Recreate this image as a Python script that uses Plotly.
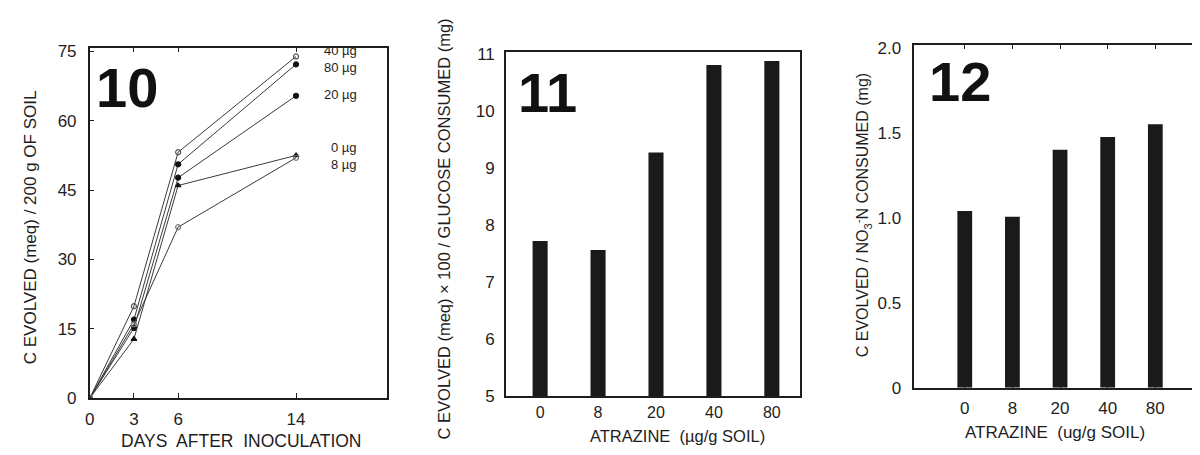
import plotly.graph_objects as go

# ---------------- data ----------------
days = [0, 3, 6, 14]
day_ticks = [0, 3, 6, 14]
c40 = [0, 19.9, 53.2, 73.9]
c80 = [0, 17.0, 50.6, 72.2]
c20 = [0, 15.2, 47.7, 65.4]
c0 = [0, 12.8, 46.0, 52.5]
c8 = [0, 16.0, 37.0, 52.0]
series_names = ["40 µg", "80 µg", "20 µg", "0 µg", "8 µg"]

y10_ticks = [0, 15, 30, 45, 60, 75]

atrazine = ["0", "8", "20", "40", "80"]
glucose_ratio = [7.72, 7.56, 9.27, 10.80, 10.87]
y11_ticks = [5, 6, 7, 8, 9, 10, 11]

nitrate_ratio = [1.04, 1.005, 1.40, 1.475, 1.55]
y12_ticks = [0, 0.5, 1.0, 1.5, 2.0]
y12_ticktext = ["0", "0.5", "1.0", "1.5", "2.0"]

# ---------------- style ----------------
FONT = "Liberation Sans, Arial, sans-serif"
INK = "#1e1e1e"
LINE = "#3a3a3a"
marker_symbols = ["circle-open", "circle", "circle", "triangle-up", "circle-open"]
marker_colors = ["#555555", "#111111", "#111111", "#111111", "#777777"]
label_offsets = [1.3, -0.6, 0.3, 1.7, -1.5]

fig = go.Figure()

all_series = [c40, c80, c20, c0, c8]
for name, vals, sym, col in zip(series_names, all_series, marker_symbols, marker_colors):
    fig.add_trace(go.Scatter(
        x=days, y=vals, mode="lines+markers", name=name,
        line=dict(color=LINE, width=1),
        marker=dict(symbol=sym, size=5, color=col, line=dict(color=col, width=1.2)),
        xaxis="x", yaxis="y", showlegend=False,
    ))

fig.add_trace(go.Bar(
    x=list(range(len(atrazine))), y=[v - 5 for v in glucose_ratio], base=5,
    marker=dict(color="#1a1a1a", line=dict(width=0)), width=0.26,
    xaxis="x2", yaxis="y2", showlegend=False,
))
fig.add_trace(go.Bar(
    x=list(range(len(atrazine))), y=nitrate_ratio,
    marker=dict(color="#1a1a1a", line=dict(width=0)), width=0.31,
    xaxis="x3", yaxis="y3", showlegend=False,
))

def base_axis(size=17):
    return dict(showline=True, linecolor=INK, linewidth=1.5,
                showgrid=False, zeroline=False,
                tickfont=dict(family=FONT, size=size, color=INK))

fig.update_layout(
    width=1200, height=455,
    margin=dict(l=0, r=0, t=0, b=0),
    paper_bgcolor="white", plot_bgcolor="white",
    font=dict(family=FONT, color=INK),
    xaxis=dict(domain=[0.0642, 0.3133], range=[0, 20.2], tickvals=day_ticks,
               ticks="inside", ticklen=5, tickcolor=INK, ticklabelstandoff=5,
               anchor="y", mirror="ticks", **base_axis()),
    yaxis=dict(domain=[0.1253, 0.9275], range=[0, 75.8], tickvals=y10_ticks,
               ticks="inside", ticklen=5, tickcolor=INK, ticklabelstandoff=8,
               anchor="x", mirror=True, **base_axis()),
    xaxis2=dict(domain=[0.4125, 0.6583], range=[-0.59, 4.48],
                tickvals=list(range(len(atrazine))), ticktext=atrazine,
                ticks="", ticklabelstandoff=1, anchor="y2", mirror=True, **base_axis(16)),
    yaxis2=dict(domain=[0.1297, 0.9165], range=[5, 11.02], tickvals=y11_ticks,
                ticks="", ticklabelstandoff=6, anchor="x2", mirror=True, **base_axis()),
    xaxis3=dict(domain=[0.7542, 0.9908], range=[-1.06, 4.875],
                tickvals=list(range(len(atrazine))), ticktext=atrazine,
                ticks="inside", ticklen=4, tickcolor=INK, ticklabelstandoff=4,
                anchor="y3", mirror="ticks", **base_axis()),
    yaxis3=dict(domain=[0.1495, 0.934], range=[0, 2.017], tickvals=y12_ticks,
                ticktext=y12_ticktext, ticks="", ticklabelstandoff=8,
                anchor="x3", mirror=True, **base_axis()),
)

ann = []
# series labels in panel 10
for name, vals, off in zip(series_names, all_series, label_offsets):
    ann.append(dict(x=18.3, y=vals[-1] + off, xref="x", yref="y", text=name,
                    showarrow=False, xanchor="right", yanchor="middle",
                    font=dict(family=FONT, size=13, color=INK)))

# panel numbers
for txt, x, y in [("10", 0.095, 0.837), ("11", 0.4475, 0.826), ("12", 0.7925, 0.851)]:
    ann.append(dict(x=x, y=y, xref="paper", yref="paper", text="<b>%s</b>" % txt,
                    showarrow=False, xanchor="center", yanchor="middle",
                    font=dict(family=FONT, size=56, color="#111111")))

# axis titles
def title(text, x, y, angle=0, size=16):
    return dict(x=x, y=y, xref="paper", yref="paper", text=text, textangle=angle,
                showarrow=False, xanchor="center", yanchor="middle",
                font=dict(family=FONT, size=size, color=INK))

ann += [
    title("C EVOLVED (meq) / 200 g OF SOIL", 0.0142, 0.5165, -90, 17),
    title("DAYS  AFTER  INOCULATION", 0.1908, 0.0286, 0, 17.5),
    title("C EVOLVED (meq) × 100 / GLUCOSE CONSUMED (mg)", 0.3608, 0.512, -90, 16.5),
    title("ATRAZINE  (µg/g SOIL)", 0.5558, 0.039, 0, 16.5),
    title("C EVOLVED / NO<sub>3</sub><sup>-</sup>N CONSUMED (mg)", 0.7108, 0.545, -90, 16),
    title("ATRAZINE  (ug/g SOIL)", 0.8717, 0.0462, 0, 17),
]
fig.update_layout(annotations=ann)

fig.write_html("out.html")
